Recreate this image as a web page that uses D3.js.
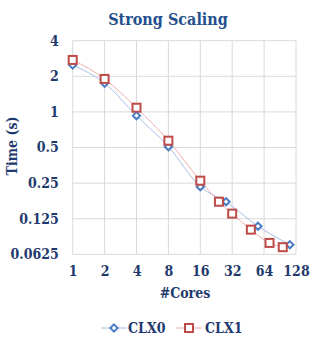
<!DOCTYPE html>
<html><head><meta charset="utf-8">
<script src="https://cdn.jsdelivr.net/npm/d3@7"></script>
<style>body{margin:0;background:#fff}</style>
</head><body>
<svg id="c" width="336" height="350"></svg>
<script>
const clx0Cores = [1, 2, 4, 8, 16, 28, 56, 112];
const clx0Time  = [2.49, 1.745, 0.93, 0.508, 0.233, 0.174, 0.108, 0.0753];
const clx1Cores = [1, 2, 4, 8, 16, 24, 32, 48, 72, 96];
const clx1Time  = [2.75, 1.90, 1.085, 0.571, 0.262, 0.174, 0.138, 0.101, 0.078, 0.0718];
const xTicks = [1, 2, 4, 8, 16, 32, 64, 128];
const yTicks = [0.0625, 0.125, 0.25, 0.5, 1, 2, 4];
const yTickLabels = ["0.0625", "0.125", "0.25", "0.5", "1", "2", "4"];
const seriesNames = ["CLX0", "CLX1"];

const svg = d3.select("#c");
const txt = "#1F3A6E";
const font = "'DejaVu Serif Condensed', 'Liberation Serif', serif";
const fs = 14;
const L = 72.7, R = 296, T = 40.7, B = 254.3;
const x = d3.scaleLog().base(2).domain([1, 128]).range([L, R]);
const y = d3.scaleLog().base(2).domain([0.0625, 4]).range([B, T]);

// grid
svg.append("g").selectAll("line").data(xTicks).join("line")
  .attr("x1", d => x(d)).attr("x2", d => x(d)).attr("y1", T).attr("y2", B)
  .attr("stroke", "#d9d9d9").attr("stroke-width", 1);
svg.append("g").selectAll("line").data(yTicks).join("line")
  .attr("x1", L).attr("x2", R).attr("y1", d => y(d)).attr("y2", d => y(d))
  .attr("stroke", "#d9d9d9").attr("stroke-width", 1);

// axes
const xAxis = svg.append("g").attr("transform", `translate(0,${B})`)
  .call(d3.axisBottom(x).tickValues(xTicks).tickFormat(d3.format("d")).tickSize(0).tickPadding(12));
const yAxis = svg.append("g").attr("transform", `translate(${L},0)`)
  .call(d3.axisLeft(y).tickValues(yTicks).tickFormat((d, i) => yTickLabels[i]).tickSize(0).tickPadding(14));
[xAxis, yAxis].forEach(a => {
  a.select(".domain").remove();
  a.selectAll("text").attr("fill", txt).attr("font-family", font)
    .attr("font-weight", "bold").attr("font-size", fs);
});

// title & axis titles
svg.append("text").attr("x", 168).attr("y", 25).attr("text-anchor", "middle")
  .attr("fill", "#254F8C").attr("font-family", font).attr("font-weight", "bold")
  .attr("font-size", 16).text("Strong Scaling");
svg.append("text").attr("x", 185).attr("y", 298).attr("text-anchor", "middle")
  .attr("fill", txt).attr("font-family", font).attr("font-weight", "bold")
  .attr("font-size", fs).text("#Cores");
svg.append("text").attr("transform", "translate(17,146) rotate(-90)").attr("text-anchor", "middle")
  .attr("fill", txt).attr("font-family", font).attr("font-weight", "bold")
  .attr("font-size", fs).text("Time (s)");

const line = d3.line().x(d => x(d[0])).y(d => y(d[1])).curve(d3.curveMonotoneX);
const d0 = clx0Cores.map((c, i) => [c, clx0Time[i]]);
const d1 = clx1Cores.map((c, i) => [c, clx1Time[i]]);
svg.append("path").attr("d", line(d0)).attr("fill", "none").attr("stroke", "#A6C0E6").attr("stroke-width", 1);
svg.append("path").attr("d", line(d1)).attr("fill", "none").attr("stroke", "#EEB0AE").attr("stroke-width", 1);

const diamond = (g, cx, cy) => g.append("path")
  .attr("d", `M${cx},${cy-3.6}L${cx+3.6},${cy}L${cx},${cy+3.6}L${cx-3.6},${cy}Z`)
  .attr("fill", "#fff").attr("stroke", "#4A7CC4").attr("stroke-width", 2);
const square = (g, cx, cy) => g.append("rect")
  .attr("x", cx - 4).attr("y", cy - 4).attr("width", 8).attr("height", 8)
  .attr("fill", "#fff").attr("stroke", "#BE4B48").attr("stroke-width", 2);

const g0 = svg.append("g");
d0.forEach(d => diamond(g0, x(d[0]), y(d[1])));
const g1 = svg.append("g");
d1.forEach(d => square(g1, x(d[0]), y(d[1])));

// legend
const lg = svg.append("g");
const ly = 328;
lg.append("line").attr("x1", 101).attr("x2", 127).attr("y1", ly).attr("y2", ly).attr("stroke", "#A6C0E6");
diamond(lg, 114, ly);
lg.append("text").attr("x", 128).attr("y", ly + 5).attr("fill", txt).attr("font-family", font)
  .attr("font-weight", "bold").attr("font-size", fs).text(seriesNames[0]);
lg.append("line").attr("x1", 176).attr("x2", 202).attr("y1", ly).attr("y2", ly).attr("stroke", "#EEB0AE");
square(lg, 189, ly);
lg.append("text").attr("x", 205).attr("y", ly + 5).attr("fill", txt).attr("font-family", font)
  .attr("font-weight", "bold").attr("font-size", fs).text(seriesNames[1]);
</script>
</body></html>
